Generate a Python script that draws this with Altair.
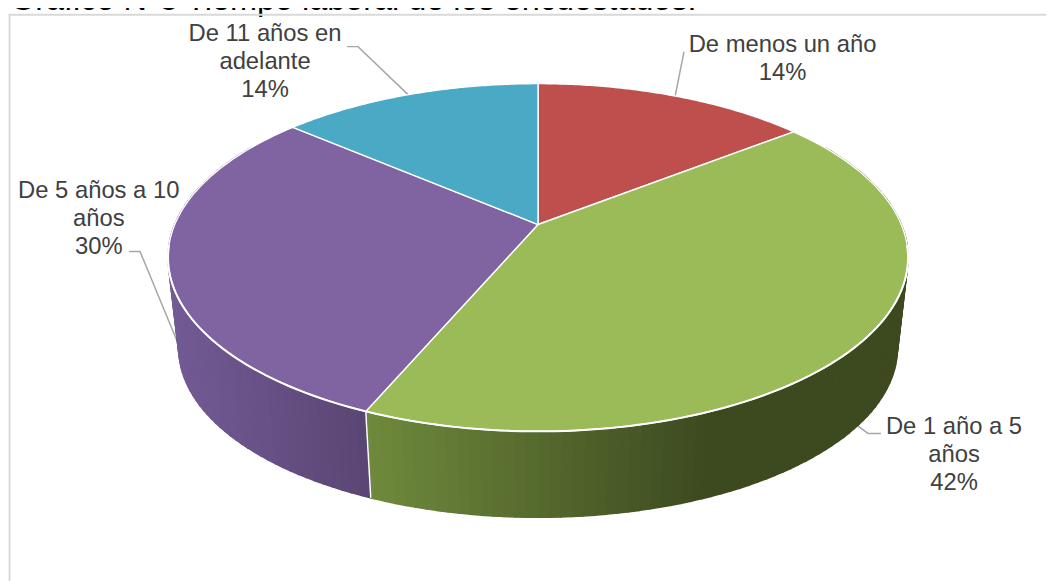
import numpy as np
import pandas as pd
import altair as alt

# Data
categories = ["De menos un año", "De 1 año a 5 años", "De 5 años a 10 años", "De 11 años en adelante"]
shares = [14.4, 42.0, 29.9, 13.7]
top_colors = ["#BE4F4D", "#9BBB59", "#8064A2", "#4AA9C4"]
title_text = "Gráfico N°5 Tiempo laboral de los encuestados."

label_x = [782.5, 954, 98.7, 265]
label_lines = [["De menos un año", "14%"], ["De 1 año a 5", "años", "42%"],
               ["De 5 años a 10", "años", "30%"], ["De 11 años en", "adelante", "14%"]]
label_y0 = [51, 434, 197, 40]
leaders = [[(684, 51), (675, 96)], [(853, 422), (868, 433), (881, 433)],
           [(129, 251), (140, 251), (178, 343)], [(347, 46), (358, 46), (408, 94)]]

# Pie projection (tilted disc seen in perspective)
CX, CY, A, B, K = 538.0, 224.0, 363.3, 167.7, 0.1897
BOTTOM_SCALE, BOTTOM_CY = 0.971, 316.0


def rim(deg, scale=1.0, cy=CY):
    t = np.radians(deg)
    d = 1 + K * np.cos(t)
    return CX + scale * A * np.sin(t) / d, cy - scale * B * np.cos(t) / d


def blend(c0, c1, f):
    a = [int(c0[i:i + 2], 16) for i in (1, 3, 5)]
    b = [int(c1[i:i + 2], 16) for i in (1, 3, 5)]
    return "#" + "".join(f"{round(p + (q - p) * f):02x}" for p, q in zip(a, b))


edges = np.concatenate([[0], np.cumsum(shares) / np.sum(shares) * 360])

# top face slices
top_rows = []
for s, color in enumerate(top_colors):
    pts = [(CX, CY)]
    for d in np.linspace(edges[s], edges[s + 1], 90):
        pts.append(rim(d))
    pts.append((CX, CY))
    for i, (x, y) in enumerate(pts):
        top_rows.append(dict(poly=f"s{s}", i=i, x=x, y=y, color=color))
top_df = pd.DataFrame(top_rows)

# side wall strips
side_rows = []
side_spec = [(1, edges[2], 60, "#6F8A3C", "#3D4A20", 371, 700), (2, edges[2], 300, "#735B95", "#5A4674", 175, 368)]
n = 0
for s, d0, d1, c0, c1, x0, x1 in side_spec:
    lo, hi = min(d0, d1), max(d0, d1)
    grid = np.arange(lo, hi, 1.5)
    grid = np.append(grid, hi)
    for a_, b_ in zip(grid[:-1], grid[1:]):
        xm = rim((a_ + b_) / 2, BOTTOM_SCALE, BOTTOM_CY)[0]
        f = float(np.clip((xm - x0) / (x1 - x0), 0, 1))
        color = blend(c0, c1, f)
        quad = [rim(a_), rim(b_), rim(b_, BOTTOM_SCALE, BOTTOM_CY), rim(a_, BOTTOM_SCALE, BOTTOM_CY), rim(a_)]
        for i, (x, y) in enumerate(quad):
            side_rows.append(dict(poly=f"q{n}", i=i, x=x, y=y, color=color))
        n += 1
side_df = pd.DataFrame(side_rows)

# separator on the wall
p0 = rim(edges[2])
p1 = rim(edges[2], BOTTOM_SCALE, BOTTOM_CY)
sep_df = pd.DataFrame([dict(i=0, x=p0[0], y=p0[1]), dict(i=1, x=p1[0], y=p1[1])])

# bright front edge of the disc
front = [rim(d) for d in np.linspace(97, 263, 120)]
front_df = pd.DataFrame([dict(i=i, x=x, y=y) for i, (x, y) in enumerate(front)])

leader_df = pd.DataFrame([dict(poly=k, i=i, x=x, y=y) for k, l in enumerate(leaders) for i, (x, y) in enumerate(l)])
text_rows = []
for lx, ly, lines in zip(label_x, label_y0, label_lines):
    for j, line in enumerate(lines):
        text_rows.append(dict(x=lx, y=ly + j * 28, t=line))
text_df = pd.DataFrame(text_rows)

border_df = pd.DataFrame([dict(i=0, x=1054, y=14), dict(i=1, x=9.5, y=14), dict(i=2, x=9.5, y=581)])
title_df = pd.DataFrame([dict(x=10, y=9.5, t=title_text)])

X = alt.X("x:Q", scale=alt.Scale(domain=[7.94, 1046], nice=False, zero=False), axis=None)
Y = alt.Y("y:Q", scale=alt.Scale(domain=[578.5, 9.54], nice=False, zero=False), axis=None)

border = alt.Chart(border_df).mark_line(color="#D9D9D9", strokeWidth=2).encode(x=X, y=Y, order="i:Q")
leader = alt.Chart(leader_df).mark_line(color="#A6A6A6", strokeWidth=1.5).encode(x=X, y=Y, detail="poly:N", order="i:Q")
side = alt.Chart(side_df).mark_line(strokeWidth=1.5).encode(
    x=X, y=Y, detail="poly:N", order="i:Q",
    fill=alt.Fill("color:N", scale=None), stroke=alt.Stroke("color:N", scale=None))
sep = alt.Chart(sep_df).mark_line(color="white", strokeWidth=1.5).encode(x=X, y=Y, order="i:Q")
top = alt.Chart(top_df).mark_line(strokeWidth=1.4, stroke="white").encode(
    x=X, y=Y, detail="poly:N", order="i:Q", fill=alt.Fill("color:N", scale=None))
front_line = alt.Chart(front_df).mark_line(color="white", strokeWidth=2).encode(x=X, y=Y, order="i:Q")
labels = alt.Chart(text_df).mark_text(font="Liberation Sans", fontSize=23.98, color="#404040", align="center", baseline="alphabetic").encode(x=X, y=Y, text="t:N")
title = alt.Chart(title_df).mark_text(font="Liberation Sans", fontSize=32.65, color="#000000", align="left", baseline="alphabetic").encode(x=X, y=Y, text="t:N")

chart = (title + border + leader + side + sep + top + front_line + labels).properties(
    width=1046, height=573, padding=0, autosize=alt.AutoSizeParams(type="none"), background="white",
).configure_view(stroke=None)

chart.save("out.html", embed_options={"renderer": "svg", "actions": False})
